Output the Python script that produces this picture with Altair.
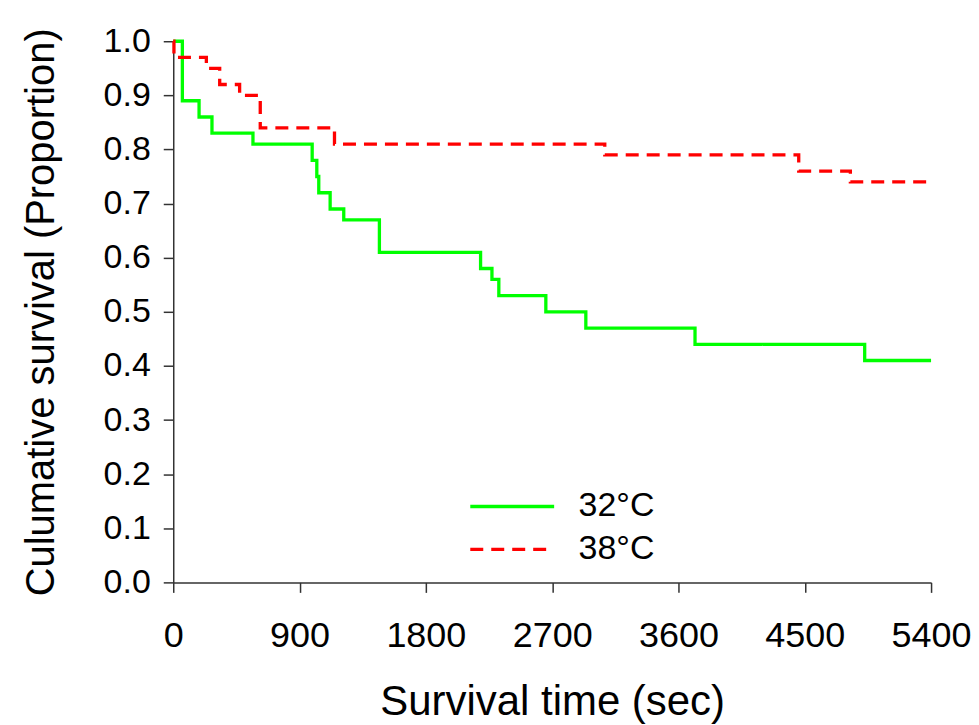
import altair as alt
import pandas as pd

# 32°C series (step-after: value holds from this time onward)
t32 = [0, 65, 184, 276, 568, 990, 1023, 1037, 1118, 1215, 1469, 2190, 2271, 2320, 2655, 2940, 3718, 4927, 5400]
s32 = [1.00, 0.89, 0.86, 0.83, 0.81, 0.78, 0.75, 0.72, 0.69, 0.67, 0.61, 0.58, 0.56, 0.53, 0.50, 0.47, 0.44, 0.41, 0.41]

# 38°C series
t38 = [0, 5, 236, 331, 473, 620, 1149, 3075, 4457, 4825, 5400]
s38 = [1.00, 0.97, 0.95, 0.92, 0.90, 0.84, 0.81, 0.79, 0.76, 0.74, 0.74]

groups = ["32°C", "38°C"]
x_ticks = [0, 900, 1800, 2700, 3600, 4500, 5400]
y_ticks = [0.0, 0.1, 0.2, 0.3, 0.4, 0.5, 0.6, 0.7, 0.8, 0.9, 1.0]

df = pd.concat([
    pd.DataFrame({"time": t32, "surv": s32, "group": groups[0], "order": range(len(t32))}),
    pd.DataFrame({"time": t38, "surv": s38, "group": groups[1], "order": range(len(t38))}),
])

FONT = "Liberation Sans"

chart = alt.Chart(df).mark_line(interpolate="step-after", strokeWidth=3.3).encode(
    x=alt.X("time:Q",
            scale=alt.Scale(domain=[0, 5400], nice=False, zero=False),
            axis=alt.Axis(values=x_ticks, title="Survival time (sec)", format="d",
                          labelFontSize=36, titleFontSize=42, labelPadding=26,
                          labelFlush=False, labelOverlap=False,
                          titlePadding=28, tickSize=10)),
    y=alt.Y("surv:Q",
            scale=alt.Scale(domain=[0, 1], nice=False),
            axis=alt.Axis(values=y_ticks, title="Culumative survival (Proportion)", format=".1f",
                          labelFontSize=34, titleFontSize=40, labelPadding=13,
                          labelFlush=False, labelOverlap=False,
                          titlePadding=42, tickSize=10)),
    color=alt.Color("group:N",
                    scale=alt.Scale(domain=groups, range=["#00ff00", "#ff0000"]),
                    legend=alt.Legend(title=None, orient="none", legendX=291, legendY=449,
                                      symbolType="M-1,0H7", symbolSize=441,
                                      symbolStrokeWidth=3.3, labelFontSize=34,
                                      labelOffset=81, rowPadding=9, padding=0)),
    strokeDash=alt.StrokeDash("group:N",
                              scale=alt.Scale(domain=groups, range=[[1, 0], [13, 8]]),
                              legend=None),
    order="order:Q",
).properties(
    width=759, height=542,
    padding={"left": 165.5, "top": 32.7, "right": 40, "bottom": 180},
    autosize=alt.AutoSizeParams(type="none"),
).configure_view(
    stroke=None
).configure_axis(
    grid=False, domainColor="#333333", tickColor="#333333", domainWidth=1.5, tickWidth=1.5,
    labelColor="black", titleColor="black", labelFont=FONT, titleFont=FONT,
    titleFontWeight="normal",
).configure_legend(
    labelFont=FONT, labelColor="black"
)

chart.save("out.html", embed_options={"renderer": "svg", "actions": False})
